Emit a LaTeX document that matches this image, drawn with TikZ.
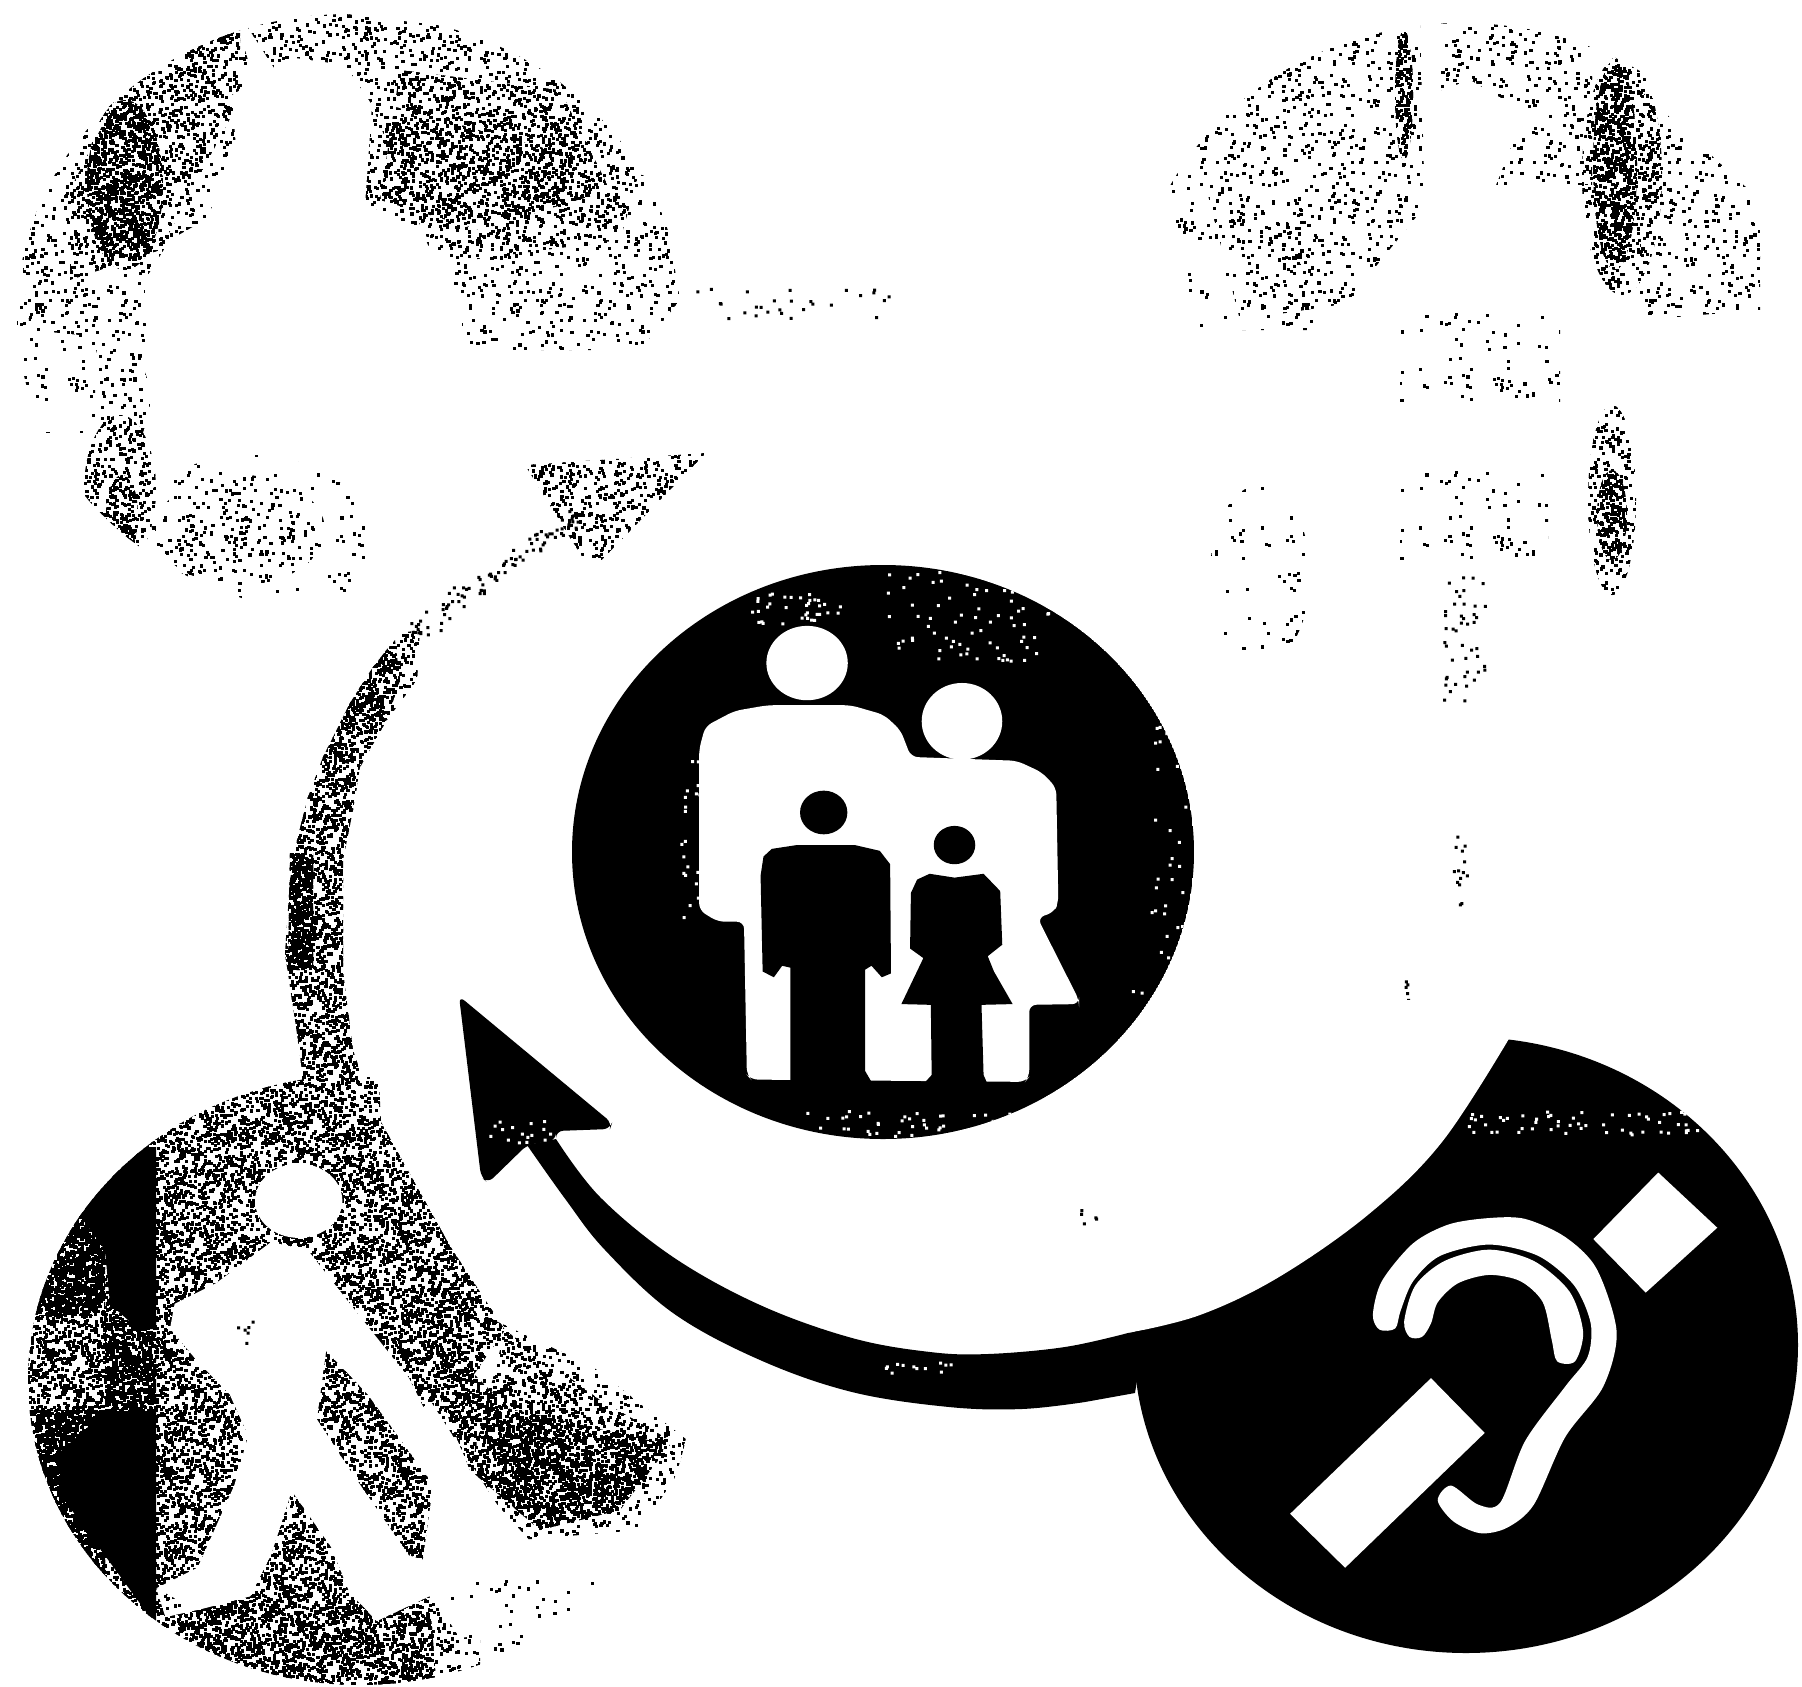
\documentclass[tikz,border=0pt]{standalone}
\usepackage{tikz}
\usetikzlibrary{patterns}
% tiles of random pixels: name, tile size, how many, pixel size (pt)
\newcommand{\declarespeck}[4]{\pgfmathsetmacro\tilestep{#2-0.5}\edef\tilestep{\tilestep pt}%
  \expandafter\pgfdeclarepatternformonly\expandafter{#1}{\pgfqpoint{0pt}{0pt}}{\pgfqpoint{#2pt}{#2pt}}{\pgfqpoint{\tilestep}{\tilestep}}{%
  \foreach \i in {1,...,#3}{\pgfmathsetmacro\px{(#2-#4)*rnd}\pgfmathsetmacro\py{(#2-#4)*rnd}%
    \pgfpathrectangle{\pgfqpoint{\px pt}{\py pt}}{\pgfqpoint{#4pt}{#4pt}}\pgfusepath{fill}}}}
\pgfmathsetseed{1802}
\declarespeck{speckdense}{34.14}{1300}{1.0}
\declarespeck{speckheavy}{34.14}{1000}{0.9}
\declarespeck{speckmedium}{45.52}{800}{0.9}
\declarespeck{specksoft}{45.52}{500}{0.9}
\declarespeck{specklight}{45.52}{300}{0.9}
\declarespeck{speckfaint}{45.52}{90}{0.9}
\tikzset{
  solid black/.style={fill=black},
  cutout/.style={fill=white},
  dense/.style={pattern=speckdense,pattern color=black},
  heavy/.style={pattern=speckheavy,pattern color=black},
  medium/.style={pattern=speckmedium,pattern color=black},
  soft/.style={pattern=specksoft,pattern color=black},
  light/.style={pattern=specklight,pattern color=black},
  faint/.style={pattern=speckfaint,pattern color=black},
  zoomleft/.style={shift={(0,1040)},x=0.00459cm,y=-0.004126cm},
  zoomfamily/.style={shift={(560,550)},x=0.004145cm,y=-0.003827cm},
  zoomear/.style={shift={(1100,1020)},x=0.004477cm,y=-0.004209cm},
}
% a few loose pixels in a box or along a line
\newcommand{\speckbox}[6][black]{\fill[#1] \foreach \i [evaluate=\i as \px using {#2+(#4-#2)*rnd},
    evaluate=\i as \py using {#3+(#5-#3)*rnd}] in {1,...,#6} {(\px,\py) rectangle +(3,3)};}
\newcommand{\speckline}[7][black]{\fill[#1] \foreach \i [evaluate=\i as \along using rnd,
    evaluate=\i as \px using {#2+(#4-#2)*\along+#6*(rand+rand)/2},
    evaluate=\i as \py using {#3+(#5-#3)*\along+#6*(rand+rand)/2}] in {1,...,#7} {(\px,\py) rectangle +(3,3)};}

\begin{document}
\begin{tikzpicture}[x=0.01cm,y=-0.01cm]
\useasboundingbox (0,0) rectangle (1802,1687);
% top left disk
\begin{scope}
\clip (349,314) ellipse (332 and 300);
\fill[soft] (230,0) -- (560,40) -- (640,170) -- (620,240) -- (470,260) -- (360,200) -- cycle;
\fill[light] (370,100) -- (660,180) -- (680,300) -- (640,350) -- (470,350) -- cycle;
\fill[light] (20,240) -- (60,120) -- (230,0) -- (260,100) -- (170,300) -- (130,340) -- (30,330) -- cycle;
\fill[medium] (400,70) -- (560,90) -- (610,190) -- (480,230) -- (380,200) -- cycle;
\fill[medium] (240,20) -- (240,100) -- (160,250) -- (70,280) -- (70,190) -- (130,70) -- cycle;
\fill[heavy] (125,185) ellipse (38 and 85);
\fill[cutout] (295,58) -- (345,65) -- (372,105) -- (365,205) -- (435,250) -- (460,300) -- (470,430)
  -- (170,430) -- (145,340) -- (145,280) -- (170,240) -- (240,200) -- (232,95) -- cycle;
\fill[faint] (15,245) rectangle (95,432);
\fill[light] (120,330) ellipse (26 and 50);
\fill[light] (120,400) ellipse (30 and 50);
\fill[medium] (120,490) ellipse (36 and 75);
\fill[heavy] (122,515) ellipse (16 and 40);
\fill[faint] (250,545) ellipse (125 and 90);
\fill[light] (240,530) ellipse (85 and 55);
\end{scope}
\speckbox{689}{285}{895}{322}{28}
% top right disk
\begin{scope}
\clip (1462,328) ellipse (330 and 305);
\fill[faint] (1155,170) -- (1250,90) -- (1320,330) -- (1200,330) -- cycle;
\fill[light] (1190,125) -- (1290,50) -- (1420,25) -- (1425,210) -- (1370,300) -- (1240,320) -- cycle;
\fill[light] (1270,70) -- (1400,40) -- (1415,170) -- (1330,220) -- (1270,200) -- cycle;
\fill[heavy] (1404,95) ellipse (9 and 65);
\fill[light] (1440,23) rectangle (1592,184);
\fill[heavy] (1615,165) ellipse (22 and 105);
\fill[medium] (1622,175) ellipse (40 and 120);
\fill[light] (1640,90) -- (1760,200) -- (1760,310) -- (1640,320) -- cycle;
\fill[cutout] (1470,80) -- (1525,112) -- (1492,195) -- (1580,210) -- (1595,280) -- (1610,330) -- (1340,330)
  -- (1369,275) -- (1422,210) -- (1428,95) -- cycle;
\fill[faint] (1400,468) rectangle (1548,569);
\fill[faint] (1400,312) rectangle (1560,404);
\fill[medium] (1612,500) ellipse (24 and 95);
\fill[heavy] (1612,515) ellipse (15 and 45);
\end{scope}
\fill[faint] (1260,575) ellipse (50 and 90);
\speckbox{1440}{574}{1485}{702}{45}
\speckline{1459}{827}{1459}{919}{8}{14}
\speckline{1407}{977}{1407}{1034}{4}{14}
\speckbox{1080}{1195}{1172}{1235}{25}
% faded arrow, upper left
\fill[medium] (525,465) -- (706,453) -- (591,571) -- cycle;
\speckline{574}{518}{410}{630}{14}{90}
\fill[medium] (400,633) -- (373,667) -- (350,703) -- (323,757) -- (360,767) -- (387,720) -- (417,680) -- (420,630) -- cycle;
\fill[heavy] (395,640) -- (373,667) -- (350,703) -- (323,757) -- (308,797) -- (297,840) -- (290,880) -- (285,953) -- (290,987)
  -- (295,1020) -- (302,1070) -- (302,1100) -- (370,1100) -- (353,1050) -- (347,1003) -- (343,970) -- (343,920) -- (343,860)
  -- (353,810) -- (360,767) -- (387,720) -- (400,680) -- cycle;
\fill[dense] (290,853) -- (313,853) -- (313,970) -- (288,970) -- cycle;
% lower left disk
\begin{scope}
\clip (360,1380) ellipse (332 and 305);
\clip (0,1000) -- (375,1000) -- (381,1122) -- (450,1246) -- (505,1304) -- (597,1370) -- (700,1450) -- (720,1687) -- (0,1687) -- cycle;
\fill[heavy] (20,1130) rectangle (156,1640);
\fill[dense] (20,1130) rectangle (105,1315);
\fill[dense] (20,1410) rectangle (105,1640);
\fill[solid black] (156,1147) -- (138,1147) -- (106,1172) -- (78,1213) -- (105,1250) -- (110,1304) -- (138,1329) -- (156,1329) -- cycle;
\fill[solid black] (156,1411) -- (106,1411) -- (60,1452) -- (60,1494) -- (147,1613) -- (156,1625) -- cycle;
\fill[dense] (105,1320) rectangle (156,1411);
\fill[heavy] (156,1077) -- (450,1077) -- (450,1246) -- (505,1330) -- (470,1380) -- (400,1420) -- (270,1420) -- (270,1640) -- (156,1640) -- cycle;
\fill[soft] (430,1290) -- (600,1370) -- (700,1440) -- (640,1530) -- (520,1540) -- (430,1400) -- cycle;
\fill[medium] (505,1330) -- (600,1400) -- (670,1440) -- (620,1510) -- (540,1530) -- (470,1470) -- cycle;
\fill[heavy] (470,1400) -- (560,1420) -- (670,1445) -- (620,1510) -- (540,1530) -- cycle;
\fill[heavy] (400,1300) -- (500,1400) -- (540,1530) -- (470,1470) -- cycle;
\fill[soft] (190,1600) rectangle (480,1687);
\begin{scope}[zoomleft]
\fill[cutout] (650,390) ellipse (95 and 90);
\fill[cutout] (590,490) -- (670,510) -- (790,680) -- (890,820) -- (930,910) -- (1010,1040) -- (1190,1260)
  -- (1215,1310) -- (1215,1430) -- (1000,1450) -- (960,1380) -- (935,1350) -- (880,1395) -- (820,1410)
  -- (760,1340) -- (700,1215) -- (635,1095) -- (590,1250) -- (545,1350) -- (440,1380) -- (360,1400)
  -- (340,1330) -- (430,1280) -- (470,1180) -- (510,1080) -- (540,960) -- (500,860) -- (430,780)
  -- (370,700) -- (380,640) -- (470,590) -- cycle;
\fill[heavy] (710,755) -- (800,860) -- (930,1060) -- (940,1100) -- (920,1260) -- (890,1250) -- (760,1040) -- (690,920) -- cycle;
\fill[heavy] (635,1095) -- (720,1230) -- (760,1340) -- (820,1410) -- (935,1350) -- (950,1568) -- (430,1568) -- (430,1385) -- (545,1350) -- (590,1250) -- cycle;
\fill[light] (340,1330) -- (430,1385) -- (430,1500) -- (340,1400) -- cycle;
\end{scope}
\fill[faint] (436,1576) rectangle (597,1659);
\speckbox{236}{1320}{252}{1345}{6}
\end{scope}
% hearing disk and the arrow leaving it
\fill[solid black] (1466,1345) ellipse (332 and 308);
\fill[cutout] plot[smooth,tension=0.6] coordinates {(1510,1037) (1442,1142) (1369,1214) (1279,1277) (1200,1315) (1128,1333)}
  -- (1100,1340) -- (1100,1000) -- (1510,1000) -- cycle;
\fill[solid black] plot[smooth,tension=0.6] coordinates {(556,1139) (600,1197) (673,1257) (760,1305) (852,1338) (930,1352) (988,1354) (1065,1347) (1128,1333)}
  -- (1145,1330) -- (1135,1393)
  -- plot[smooth,tension=0.6] coordinates {(1085,1402) (1022,1409) (949,1407) (852,1392) (760,1360) (673,1313) (605,1250) (566,1200) (527,1145)} -- cycle;
\fill[solid black,rounded corners=2pt] (459,996) -- (612,1123) -- (610,1129) -- (556,1131) -- (556,1140) -- (527,1145) -- (488,1183) -- (481,1177) -- cycle;
\speckbox[white]{482}{1120}{550}{1145}{16}
\speckbox[white]{880}{1360}{960}{1372}{12}
\begin{scope}[zoomear]
\fill[cutout] (740,850) -- (860,980) -- (548,1300) -- (425,1172) -- cycle;
\fill[cutout] (1248,362) -- (1380,493) -- (1220,647) -- (1103,520) -- cycle;
\fill[cutout] plot[smooth cycle,tension=0.5] coordinates {(610,700) (630,620) (700,530) (780,485) (870,470) (950,472) (1040,515) (1110,590) (1155,740)
  (1125,870) (1040,990) (970,1150) (910,1205) (850,1218) (790,1190) (755,1140) (785,1105) (845,1150) (895,1145)
  (950,1000) (1040,870) (1090,800) (1097,720) (1060,630) (980,560) (870,533) (760,560) (700,620) (672,690) (660,732) (625,735)};
\fill[cutout] plot[smooth cycle,tension=0.5] coordinates {(680,715) (705,630) (770,572) (870,545) (970,572) (1050,645) (1080,740)
  (1062,810) (1022,810) (1010,760) (990,670) (940,620) (870,605) (800,625) (755,670) (740,720) (720,752) (692,752)};
\end{scope}
\speckbox[white]{1467}{1110}{1700}{1135}{55}
% family disk
\begin{scope}
\clip (883,852) ellipse (311 and 287);
\fill[solid black] (883,852) ellipse (311 and 287);
\begin{scope}[zoomfamily]
\fill[cutout] (595,295) ellipse (98 and 97);
\fill[cutout] (968,447) ellipse (97 and 100);
\fill[cutout,rounded corners=2pt] (335,940) -- (335,520) -- (350,460) -- (420,420) -- (500,405) -- (700,405) -- (780,430) -- (820,470)
  -- (845,540) -- (1100,550) -- (1160,580) -- (1195,620) -- (1200,920) -- (1190,945) -- (1150,960) -- (1250,1175) -- (1250,1185) -- (1130,1187)
  -- (1130,1375) -- (1120,1388) -- (460,1382) -- (450,1370) -- (443,970) -- (380,970) -- cycle;
\fill[solid black] (635,685) ellipse (57 and 57);
\fill[solid black] (490,800) -- (510,780) -- (570,770) -- (710,770) -- (770,785) -- (795,820) -- (797,1105) -- (775,1115) -- (750,1085)
  -- (735,1095) -- (735,1360) -- (750,1388) -- (880,1388) -- (895,1370) -- (893,1187) -- (822,1185) -- (875,1065) -- (843,1040)
  -- (845,895) -- (860,860) -- (890,845) -- (950,855) -- (1020,845) -- (1060,890) -- (1065,1030) -- (1030,1060) -- (1045,1100)
  -- (1090,1185) -- (1015,1187) -- (1020,1370) -- (1030,1395) -- (1000,1420) -- (555,1420) -- (555,1090) -- (535,1085) -- (515,1115)
  -- (488,1100) -- (483,850) -- cycle;
\fill[solid black] (950,770) ellipse (50 and 50);
\end{scope}
\speckbox[white]{750}{590}{840}{625}{35}
\speckbox[white]{885}{570}{1050}{660}{80}
\speckbox[white]{680}{760}{700}{920}{20}
\speckbox[white]{1150}{690}{1185}{1000}{35}
\speckbox[white]{800}{1110}{1050}{1135}{50}
\speckbox[white]{1130}{990}{1180}{1090}{14}
\end{scope}
\end{tikzpicture}
\end{document}
